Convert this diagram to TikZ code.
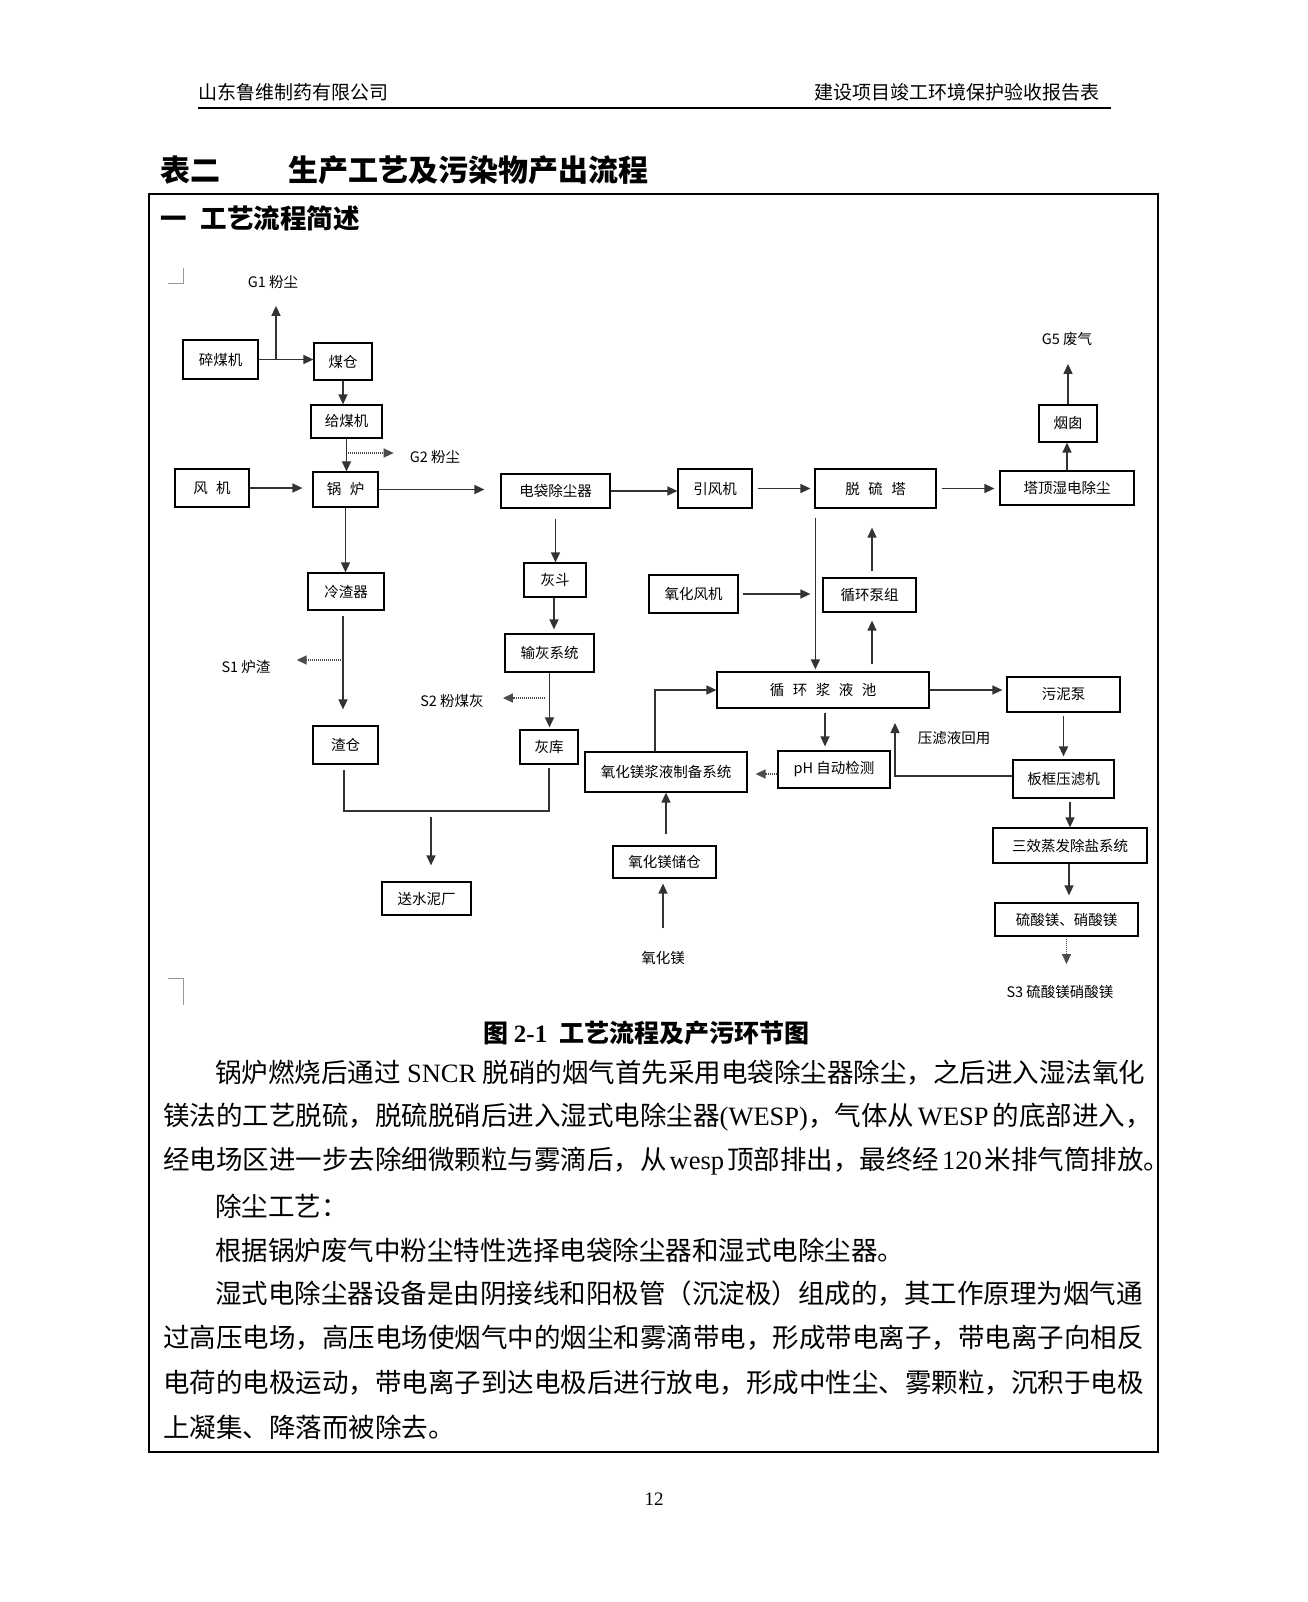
\documentclass[tikz,border=0pt]{standalone}
\usepackage{fontspec}
\setmainfont{Liberation Serif}
\newfontfamily\cjk{Noto Sans CJK SC}
\usetikzlibrary{arrows.meta}
\XeTeXlinebreaklocale "zh"
\XeTeXlinebreakskip=0pt plus 3pt minus 1pt
\newcommand\dg{\cjk\fontsize{14.5}{17}\selectfont}
\newcommand\gp{\hspace{8.5pt}}
\newcommand\pf{\cjk\fontsize{26.5}{30}\selectfont}
\newcommand\tm[1]{{\rmfamily #1}}
\tikzset{
  bx/.style={draw=black, line width=1.2pt, inner sep=0pt, font=\dg},
  wh/.style 2 args={minimum width=#1pt, minimum height=#2pt},
  cn/.style={draw=black!80, line width=1.4pt},
  arr/.style={cn, -{Triangle[length=10pt,width=9pt]}},
  dt/.style={draw=black!70, line width=1.4pt, dash pattern=on 1pt off 1pt, -{Triangle[length=10pt,width=9pt]}},
  lbl/.style={font=\dg, inner sep=0pt},
  pl/.style={anchor=west, inner sep=0pt, font=\pf},
  cornermark/.style={draw=black!40, line width=0.8pt}
}
\begin{document}
\begin{tikzpicture}[x=1pt,y=-1pt]
\fill[white] (0,0) rectangle (1307,1602);
\useasboundingbox (0,0) rectangle (1307,1602);

% header
\node[anchor=west,inner sep=0pt,font=\cjk\fontsize{19}{22}\selectfont] (hl) at (198,92) {山东鲁维制药有限公司};
\node[anchor=east,inner sep=0pt,font=\cjk\fontsize{19}{22}\selectfont] (hr) at (1100,92) {建设项目竣工环境保护验收报告表};
\draw[line width=2.7pt] (198,108) -- (1111,108);

% title
\node[anchor=west,inner sep=0pt,font=\cjk\bfseries\fontsize{30}{34}\selectfont] (t1) at (160,170) {表二};
\node[anchor=west,inner sep=0pt,font=\cjk\bfseries\fontsize{30}{34}\selectfont] (t2) at (288,170) {生产工艺及污染物产出流程};

% frame
\draw[line width=1.1pt] (149,194) rectangle (1158,1452);
\node[anchor=west,inner sep=0pt,font=\cjk\bfseries\fontsize{26.5}{30}\selectfont] (sec) at (160,218) {一\hspace{14pt}工艺流程简述};

% corner marks
\draw[cornermark] (168,283) -- (183,283) -- (183,268);
\draw[cornermark] (168,978) -- (183,978) -- (183,1005);

% boxes
\node[bx,wh={75}{39}] (suimei) at (220.5,359.5) {碎煤机};
\node[bx,wh={58}{37}] (meicang) at (343,361.5) {煤仓};
\node[bx,wh={71}{33}] (geimei) at (346.5,421.5) {给煤机};
\node[bx,wh={65}{35}] (guolu) at (345.5,489.5) {锅\gp 炉};
\node[bx,wh={74}{38}] (fengji) at (212,488) {风\gp 机};
\node[bx,wh={109}{34}] (daichen) at (555.5,491) {电袋除尘器};
\node[bx,wh={76}{37}] (lengzha) at (346,591.5) {冷渣器};
\node[bx,wh={62}{34}] (huidou) at (555,580) {灰斗};
\node[bx,wh={89}{38}] (shuhui) at (549.5,653) {输灰系统};
\node[bx,wh={65}{38}] (zhacang) at (345.5,745) {渣仓};
\node[bx,wh={58}{34}] (huiku) at (549,747) {灰库};
\node[bx,wh={89}{33}] (shuini) at (426.5,898.5) {送水泥厂};
\node[bx,wh={74}{39}] (yinfeng) at (715,488.5) {引风机};
\node[bx,wh={121}{39}] (tuoliu) at (875.5,488.5) {脱\gp 硫\gp 塔};
\node[bx,wh={134}{34}] (tading) at (1067,488) {塔顶湿电除尘};
\node[bx,wh={58}{37}] (yancong) at (1068,423.5) {烟囱};
\node[bx,wh={93}{34}] (xunbeng) at (869.5,595) {循环泵组};
\node[bx,wh={89}{38}] (yanghua) at (693.5,594) {氧化风机};
\node[bx,wh={212}{36}] (chi) at (823,690) {循\gp 环\gp 浆\gp 液\gp 池};
\node[bx,wh={113}{35}] (wunibeng) at (1063.5,694.5) {污泥泵};
\node[bx,wh={101}{38}] (bankuang) at (1063.5,779) {板框压滤机};
\node[bx,wh={112}{37}] (ph) at (834,769.5) {pH 自动检测};
\node[bx,wh={162}{40}] (zhibei) at (666,772) {氧化镁浆液制备系统};
\node[bx,wh={103}{32}] (chucang) at (664.5,862) {氧化镁储仓};
\node[bx,wh={154}{35}] (sanxiao) at (1070,845.5) {三效蒸发除盐系统};
\node[bx,wh={143}{33}] (liusuan) at (1066.5,919.5) {硫酸镁、硝酸镁};

% labels
\node[lbl] (g1) at (273,282) {G1 粉尘};
\node[lbl] (g2) at (435,457) {G2 粉尘};
\node[lbl] (s1) at (246,667) {S1 炉渣};
\node[lbl] (s2) at (452,701) {S2 粉煤灰};
\node[lbl] (g5) at (1067,339) {G5 废气};
\node[lbl] (ylh) at (954,738) {压滤液回用};
\node[lbl] (mgo) at (663,958) {氧化镁};
\node[lbl] (s3) at (1060,992) {S3 硫酸镁硝酸镁};

% coordinates
\coordinate (g1b) at (276,359.5);
\coordinate (g2a) at (348,453);
\coordinate (s1a) at (343,660);
\coordinate (s2a) at (545,698);
\coordinate (mid) at (431,811);
\coordinate (ylt) at (895,723);

% connectors left part
\draw[arr] (suimei.east) -- (suimei.east -| meicang.west);
\draw[arr, shorten >=17pt] (g1b) -- (g1b |- g1.south);
\draw[arr] (meicang.south) -- (meicang.south |- geimei.north);
\draw[arr] (geimei.south) -- (geimei.south |- guolu.north);
\draw[dt, shorten >=16pt] (g2a) -- (g2a -| g2.west);
\draw[arr, shorten >=10pt] (fengji.east) -- (fengji.east -| guolu.west);
\draw[arr, shorten >=16pt] (guolu.east) -- (guolu.east -| daichen.west);
\draw[arr] (guolu.south) -- (guolu.south |- lengzha.north);
\draw[arr, shorten <=10pt] (daichen.south) -- (daichen.south |- huidou.north);
\draw[arr, shorten <=5pt, shorten >=16pt] ([xshift=-3pt]lengzha.south) -- ([xshift=-3pt]lengzha.south |- zhacang.north);
\draw[dt, shorten >=26pt] (s1a) -- (s1a -| s1.east);
\draw[arr, shorten >=4pt] ([xshift=-1pt]huidou.south) -- ([xshift=-1pt]huidou.south |- shuhui.north);
\draw[arr, shorten >=2pt] (shuhui.south) -- (shuhui.south |- huiku.north);
\draw[dt, shorten >=19pt] (s2a) -- (s2a -| s2.east);
\draw[cn] ([xshift=-1.5pt,yshift=-5pt]zhacang.south) |- (mid) -| ([yshift=-3pt]huiku.south);
\draw[arr, shorten >=16pt] ([yshift=-6pt]mid) -- (mid |- shuini.north);

% connectors right part
\draw[arr] (daichen.east) -- (daichen.east -| yinfeng.west);
\draw[arr, shorten <=5pt, shorten >=4pt] (yinfeng.east) -- (yinfeng.east -| tuoliu.west);
\draw[arr, shorten <=5pt, shorten >=5pt] (tuoliu.east) -- (tuoliu.east -| tading.west);
\draw[arr] (tading.north) -- (tading.north |- yancong.south);
\draw[arr, shorten >=18pt] (yancong.north) -- (yancong.north |- g5.south);
\draw[arr, shorten <=9pt, shorten >=2pt] ([xshift=1pt]tuoliu.south west) -- ([xshift=1pt]tuoliu.south west |- chi.north);
\draw[arr, shorten <=4pt, shorten >=4pt] (yanghua.east) -- (yanghua.east -| tuoliu.south west);
\draw[arr, shorten <=6pt, shorten >=19pt] ([xshift=2.5pt]xunbeng.north) -- ([xshift=2.5pt]xunbeng.north |- tuoliu.south);
\draw[arr, shorten <=7pt, shorten >=8pt] ([xshift=2.5pt]xunbeng.south |- chi.north) -- ([xshift=2.5pt]xunbeng.south);
\draw[arr, shorten >=4pt] (chi.east) -- (chi.east -| wunibeng.west);
\draw[arr, shorten <=3pt, shorten >=3pt] (wunibeng.south) -- (wunibeng.south |- bankuang.north);
\draw[arr] ([yshift=3pt]bankuang.west) -| (ylt);
\draw[arr, shorten <=4pt, shorten >=4pt] ([xshift=2pt]chi.south) -- ([xshift=2pt]chi.south |- ph.north);
\draw[dt, shorten >=8pt] ([yshift=-4.5pt]ph.west) -- ([yshift=-4.5pt]ph.west -| zhibei.east);
\draw[arr] ([xshift=-11pt]zhibei.north) |- (chi.west);
\draw[arr, shorten <=11pt] ([xshift=1.5pt]chucang.north) -- ([xshift=1.5pt]chucang.north |- zhibei.south);
\draw[arr, shorten <=23pt, shorten >=5pt] (mgo.north) -- (mgo.north |- chucang.south);
\draw[arr, shorten <=3pt] ([xshift=6.5pt]bankuang.south) -- ([xshift=6.5pt]bankuang.south |- sanxiao.north);
\draw[arr, shorten >=7pt] ([xshift=-1pt]sanxiao.south) -- ([xshift=-1pt]sanxiao.south |- liusuan.north);
\draw[dt, shorten <=2pt, shorten >=21pt] (liusuan.south) -- (liusuan.south |- s3.north);

% caption
\node[anchor=west,inner sep=0pt,font=\cjk\bfseries\fontsize{25}{28}\selectfont] (cap) at (483,1033) {图 {\rmfamily\bfseries 2-1}\hspace{12pt}工艺流程及产污环节图};

% paragraph
\node[pl] (p1) at (215,1073) {\hbox to 930pt{锅炉燃烧后通过 \tm{SNCR} 脱硝的烟气首先采用电袋除尘器除尘，之后进入湿法氧化}};
\node[pl] (p2) at (163,1117) {\hbox to 982pt{镁法的工艺脱硫，脱硫脱硝后进入湿式电除尘器\tm{(WESP)}，气体从 \tm{WESP} 的底部进入，}};
\node[pl] (p3) at (163,1161) {\hbox to 987pt{\XeTeXlinebreakskip=0pt plus 1pt minus 2pt 经电场区进一步去除细微颗粒与雾滴后，从\hspace{3pt}\tm{wesp}\hspace{3pt}顶部排出，最终经\hspace{3pt}\tm{120}\hspace{3pt}米排气筒排放。}};
\node[pl] (p4) at (215,1206) {除尘工艺：};
\node[pl] (p5) at (215,1250) {根据锅炉废气中粉尘特性选择电袋除尘器和湿式电除尘器。};
\node[pl] (p6) at (215,1294) {\hbox to 930pt{湿式电除尘器设备是由阴接线和阳极管（沉淀极）组成的，其工作原理为烟气通}};
\node[pl] (p7) at (163,1338) {\hbox to 982pt{过高压电场，高压电场使烟气中的烟尘和雾滴带电，形成带电离子，带电离子向相反}};
\node[pl] (p8) at (163,1383) {\hbox to 982pt{电荷的电极运动，带电离子到达电极后进行放电，形成中性尘、雾颗粒，沉积于电极}};
\node[pl] (p9) at (163,1427) {上凝集、降落而被除去。};

% page number
\node[inner sep=0pt,font=\fontsize{19}{22}\selectfont] (pg) at (654,1499) {12};
\end{tikzpicture}
\end{document}
